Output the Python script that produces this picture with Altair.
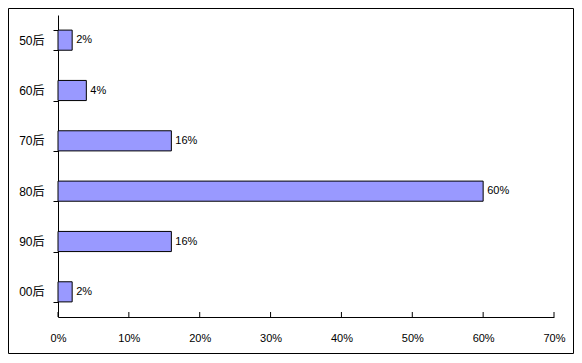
import altair as alt
import pandas as pd

categories = ["50后", "60后", "70后", "80后", "90后", "00后"]
values = [2, 4, 16, 60, 16, 2]
x_ticks = [0, 10, 20, 30, 40, 50, 60, 70]

W, H = 496, 302
FONT = "Liberation Sans, Noto Sans CJK SC, sans-serif"

df = pd.DataFrame({"cat": categories, "value": values,
                   "label": [f"{v}%" for v in values]})
tick_df = pd.DataFrame({"t": x_ticks})
frame_df = pd.DataFrame({"k": [0]})

xscale = alt.Scale(domain=[0, 70], nice=False, zero=True)

bars = alt.Chart(df).mark_bar(color="#9999FF", stroke="black", strokeWidth=1).encode(
    x=alt.X("value:Q", scale=xscale,
            axis=alt.Axis(title=None, values=x_ticks, ticks=False, grid=False,
                          domainColor="black", labelPadding=15, labelFlush=False,
                          labelFontSize=11, labelColor="black", labelFont=FONT,
                          labelExpr="datum.value + '%'")),
    y=alt.Y("cat:N", sort=categories,
            scale=alt.Scale(paddingInner=0.6, paddingOuter=0.3),
            axis=alt.Axis(title=None, tickBand="extent", tickSize=5,
                          tickColor="black", domainColor="black",
                          labelPadding=9, labelFontSize=12,
                          labelColor="black", labelFont=FONT)),
)

text = alt.Chart(df).mark_text(align="left", baseline="middle", dx=4,
                               fontSize=11, font=FONT, color="black").encode(
    x=alt.X("value:Q"),
    y=alt.Y("cat:N", sort=categories),
    text="label:N",
)

xticks = alt.Chart(tick_df).mark_rule(color="black", strokeWidth=1).encode(
    x=alt.X("t:Q"),
    y=alt.value(H - 5),
    y2=alt.value(H),
)

frame = alt.Chart(frame_df).mark_rect(fillOpacity=0, stroke="black", strokeWidth=1).encode(
    x=alt.value(-49.5), x2=alt.value(515.5), y=alt.value(-6.5), y2=alt.value(338.5)
)

chart = alt.layer(bars, text, xticks, frame).properties(
    width=W, height=H,
    background="white",
    autosize=alt.AutoSizeParams(type="none"),
    padding={"left": 50, "top": 7, "right": 20, "bottom": 38},
).configure_view(stroke=None)

chart.save("out.html", embed_options={"renderer": "svg", "actions": False})
